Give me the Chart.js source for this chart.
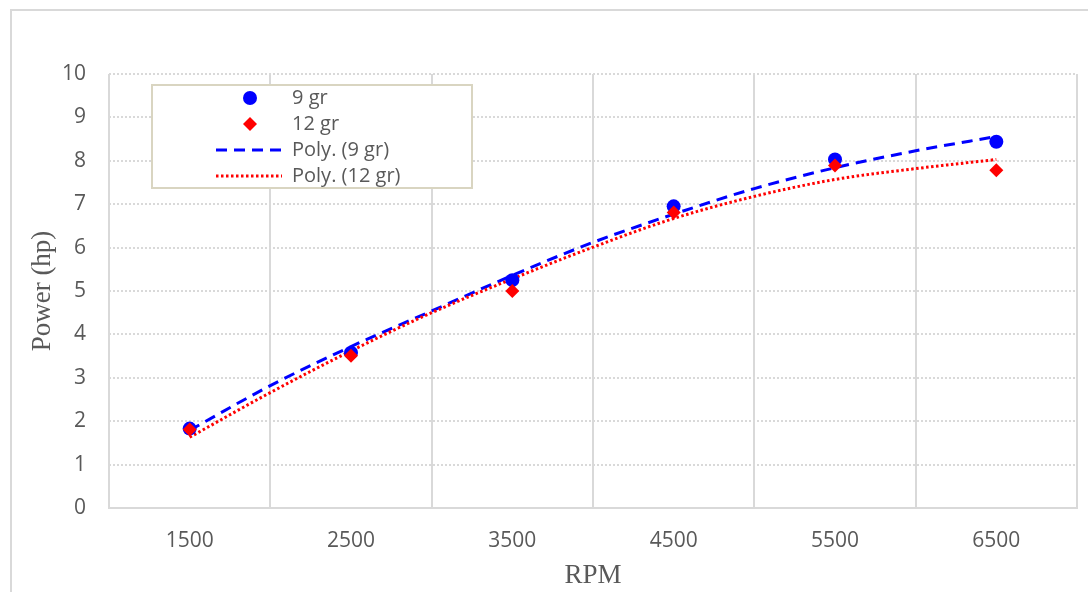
<!DOCTYPE html>
<html>
<head>
<meta charset="utf-8">
<script src="https://cdn.jsdelivr.net/npm/chart.js@4/dist/chart.umd.min.js"></script>
<style>
  html, body { margin: 0; padding: 0; background: #fff; }
  #wrap { position: relative; width: 1088px; height: 592px; overflow: hidden; }
  #frame { position: absolute; left: 10px; top: 9px; width: 1100px; height: 600px;
           border-left: 2px solid #d9d9d9; border-top: 2px solid #d9d9d9; box-sizing: border-box; }
  canvas { position: absolute; left: 0; top: 0; }
</style>
</head>
<body>
<div id="wrap">
  <div id="frame"></div>
  <canvas id="c" width="1088" height="592"></canvas>
</div>
<script>
// ---- data ----
const rpm = [1500, 2500, 3500, 4500, 5500, 6500];
const power9 = [1.83, 3.58, 5.25, 6.95, 8.03, 8.44];
const power12 = [1.81, 3.51, 5.00, 6.81, 7.89, 7.78];
const trendRpm = [1500, 2000, 2500, 3000, 3500, 4000, 4500, 5000, 5500, 6000, 6500];
const trend9 = [1.79, 2.82, 3.72, 4.54, 5.36, 6.12, 6.77, 7.36, 7.84, 8.23, 8.56];
const trend12 = [1.63, 2.66, 3.62, 4.50, 5.28, 6.01, 6.67, 7.18, 7.57, 7.82, 8.03];
const xLabels = ['1500', '2500', '3500', '4500', '5500', '6500'];
const yTicks = [0, 1, 2, 3, 4, 5, 6, 7, 8, 9, 10];
const seriesNames = ['9 gr', '12 gr', 'Poly. (9 gr)', 'Poly. (12 gr)'];
const axisTitles = { x: 'RPM', y: 'Power (hp)' };

const pts = (xs, ys) => xs.map((x, i) => ({ x: x, y: ys[i] }));

const legendPlugin = {
  id: 'boxLegend',
  afterDraw(chart) {
    const ctx = chart.ctx;
    ctx.save();
    const bx = 152, by = 85, bw = 320, bh = 103;
    ctx.fillStyle = '#ffffff';
    ctx.fillRect(bx, by, bw, bh);
    ctx.strokeStyle = '#d9d5c1';
    ctx.lineWidth = 2;
    ctx.strokeRect(bx, by, bw, bh);
    const rows = [98, 124, 150, 176];
    ctx.font = '20px "Open Sans"';
    ctx.textBaseline = 'middle';
    ctx.textAlign = 'left';
    chart.data.datasets.forEach((ds, r) => {
      const y = rows[r];
      const cx = 250;
      if (ds.showLine) {
        ctx.beginPath();
        ctx.setLineDash(ds.borderDash || []);
        ctx.strokeStyle = ds.borderColor;
        ctx.lineWidth = ds.borderWidth;
        ctx.moveTo(216, y);
        ctx.lineTo(282, y);
        ctx.stroke();
        ctx.setLineDash([]);
      } else if (ds.pointStyle === 'circle') {
        ctx.beginPath();
        ctx.fillStyle = ds.pointBackgroundColor;
        ctx.arc(cx, y, ds.pointRadius, 0, Math.PI * 2);
        ctx.fill();
      } else {
        const s = ds.pointRadius;
        ctx.beginPath();
        ctx.fillStyle = ds.pointBackgroundColor;
        ctx.moveTo(cx, y - s); ctx.lineTo(cx + s, y); ctx.lineTo(cx, y + s); ctx.lineTo(cx - s, y);
        ctx.closePath();
        ctx.fill();
      }
      ctx.fillStyle = '#595959';
      ctx.fillText(ds.label, 292, y);
    });
    ctx.restore();
  }
};

new Chart(document.getElementById('c'), {
  type: 'scatter',
  data: {
    datasets: [
      { label: seriesNames[0], data: pts(rpm, power9), pointStyle: 'circle', pointRadius: 7,
        pointBackgroundColor: '#0000ff', pointBorderWidth: 0, borderColor: '#0000ff', showLine: false, order: 2 },
      { label: seriesNames[1], data: pts(rpm, power12), pointStyle: 'rectRot', pointRadius: 7,
        pointBackgroundColor: '#ff0000', pointBorderWidth: 0, borderColor: '#ff0000', showLine: false, order: 1 },
      { label: seriesNames[2], data: pts(trendRpm, trend9), showLine: true, pointRadius: 0,
        borderColor: '#0000ff', borderWidth: 3, borderDash: [11, 7], tension: 0.4,
        cubicInterpolationMode: 'monotone', order: 4 },
      { label: seriesNames[3], data: pts(trendRpm, trend12), showLine: true, pointRadius: 0,
        borderColor: '#ff0000', borderWidth: 3, borderDash: [2.5, 2.5], tension: 0.4,
        cubicInterpolationMode: 'monotone', order: 3 }
    ]
  },
  options: {
    responsive: false,
    animation: false,
    events: [],
    layout: { padding: { left: 0, top: 74, right: 11, bottom: 0 } },
    plugins: { legend: { display: false }, tooltip: { enabled: false } },
    scales: {
      x: {
        type: 'linear', min: 1000, max: 7000,
        afterBuildTicks(scale) {
          const t = [];
          for (let v = 1000; v <= 7000; v += 500) t.push({ value: v });
          scale.ticks = t;
        },
        afterFit(scale) { scale.height = 84; scale.paddingLeft = 0; scale.paddingRight = 0; },
        ticks: {
          autoSkip: false, maxRotation: 0, padding: 20,
          color: '#595959', font: { family: 'Open Sans', size: 21 },
          callback(v) { const i = rpm.indexOf(v); return i >= 0 ? xLabels[i] : ''; }
        },
        grid: {
          drawTicks: false, lineWidth: 2,
          color(ctx) { return ctx.tick && ctx.tick.value % 1000 === 0 ? '#d9d9d9' : 'rgba(0,0,0,0)'; }
        },
        border: { display: true, color: '#d9d9d9', width: 2 },
        title: { display: true, text: axisTitles.x, color: '#595959',
                 font: { family: 'Liberation Serif', size: 27 }, padding: { top: 0, bottom: 0 } }
      },
      y: {
        min: 0, max: 10,
        afterBuildTicks(scale) { scale.ticks = yTicks.map(v => ({ value: v })); },
        afterFit(scale) { scale.width = 109; },
        ticks: { padding: 23, color: '#595959', font: { family: 'Open Sans', size: 21 } },
        grid: { drawTicks: false, lineWidth: 2, color: '#d9d9d9' },
        border: { display: false, dash: [2, 2] },
        title: { display: true, text: axisTitles.y, color: '#595959',
                 font: { family: 'Liberation Serif', size: 27 }, padding: { top: 27, bottom: 0 } }
      }
    }
  },
  plugins: [legendPlugin]
});
</script>
</body>
</html>
